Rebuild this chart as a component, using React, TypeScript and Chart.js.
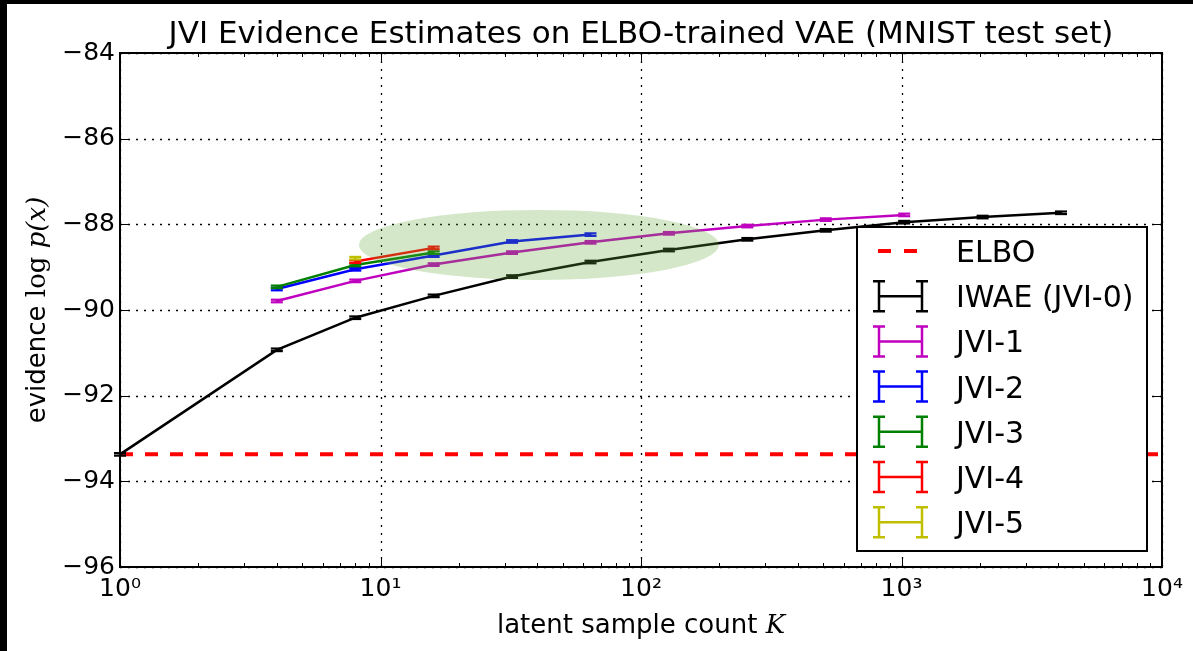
import React, { useEffect, useRef } from 'react';
import { Chart, registerables } from 'chart.js';

Chart.register(...registerables);

const TITLE = 'JVI Evidence Estimates on ELBO-trained VAE (MNIST test set)';
const X_LABEL = 'latent sample count ';
const X_LABEL_MATH = 'K';
const Y_LABEL = 'evidence ';
const Y_LABEL_LOG = 'log ';
const Y_LABEL_MATH = 'p(x)';

const X_TICKS = [1, 10, 100, 1000, 10000];
const X_TICK_LABELS = ['10⁰', '10¹', '10²', '10³', '10⁴'];
const Y_MIN = -96;
const Y_MAX = -84;
const Y_STEP = 2;

const ELBO_VALUE = -93.37;

const K_IWAE = [1, 4, 8, 16, 32, 64, 128, 256, 512, 1024, 2048, 4096];
const IWAE = [-93.37, -90.93, -90.18, -89.67, -89.22, -88.88, -88.6, -88.35, -88.14, -87.95, -87.83, -87.73];
const IWAE_ERR = [0.03, 0.03, 0.03, 0.03, 0.03, 0.03, 0.03, 0.03, 0.03, 0.03, 0.03, 0.03];

const K_JVI1 = [4, 8, 16, 32, 64, 128, 256, 512, 1024];
const JVI1 = [-89.79, -89.32, -88.94, -88.66, -88.42, -88.21, -88.04, -87.89, -87.78];
const JVI1_ERR = [0.03, 0.03, 0.03, 0.03, 0.03, 0.03, 0.03, 0.03, 0.03];

const K_JVI2 = [4, 8, 16, 32, 64];
const JVI2 = [-89.51, -89.05, -88.73, -88.4, -88.24];
const JVI2_ERR = [0.03, 0.03, 0.03, 0.03, 0.03];

const K_JVI3 = [4, 8, 16];
const JVI3 = [-89.46, -88.95, -88.66];
const JVI3_ERR = [0.03, 0.03, 0.03];

const K_JVI4 = [8, 16];
const JVI4 = [-88.87, -88.55];
const JVI4_ERR = [0.03, 0.03];

const K_JVI5 = [8];
const JVI5 = [-88.79];
const JVI5_ERR = [0.03];

const SERIES_LABELS = ['IWAE (JVI-0)', 'JVI-1', 'JVI-2', 'JVI-3', 'JVI-4', 'JVI-5'];
const SERIES_COLORS = ['#000000', '#bf00bf', '#0000ff', '#008000', '#ff0000', '#bfbf00'];
const SERIES_K = [K_IWAE, K_JVI1, K_JVI2, K_JVI3, K_JVI4, K_JVI5];
const SERIES_Y = [IWAE, JVI1, JVI2, JVI3, JVI4, JVI5];
const SERIES_ERR = [IWAE_ERR, JVI1_ERR, JVI2_ERR, JVI3_ERR, JVI4_ERR, JVI5_ERR];

// highlighted region (data coordinates: log10 K centre/radius, evidence centre/radius)
const ELLIPSE_LOGK_CENTER = 1.608;
const ELLIPSE_LOGK_RADIUS = 0.691;
const ELLIPSE_Y_CENTER = -88.48;
const ELLIPSE_Y_RADIUS = 0.817;

const SANS = '"DejaVu Sans", sans-serif';
const SERIF = '"DejaVu Serif", serif';

function drawParts(ctx: CanvasRenderingContext2D, parts: { t: string; f: string }[], cx: number, y: number) {
  let total = 0;
  for (const p of parts) {
    ctx.font = p.f;
    total += ctx.measureText(p.t).width;
  }
  let x = cx - total / 2;
  ctx.textAlign = 'left';
  ctx.textBaseline = 'alphabetic';
  for (const p of parts) {
    ctx.font = p.f;
    ctx.fillText(p.t, x, y);
    x += ctx.measureText(p.t).width;
  }
}

const mplPlugin = {
  id: 'mplLook',
  beforeDraw(chart: any) {
    const { ctx, width, height } = chart;
    ctx.save();
    ctx.fillStyle = '#ffffff';
    ctx.fillRect(0, 0, width, height);
    ctx.fillStyle = '#000000';
    ctx.fillRect(0, 0, 7, height);
    ctx.fillRect(0, 0, width, 4);
    ctx.restore();
  },
  beforeDatasetsDraw(chart: any) {
    const { ctx, chartArea: a, scales } = chart;
    const xs = scales.x;
    const ys = scales.y;
    ctx.save();
    ctx.strokeStyle = '#000000';
    ctx.lineWidth = 1.3;
    ctx.setLineDash([2, 6]);
    for (const v of X_TICKS) {
      const px = Math.round(xs.getPixelForValue(v)) + 0.5;
      ctx.beginPath();
      ctx.moveTo(px, a.top);
      ctx.lineTo(px, a.bottom);
      ctx.stroke();
    }
    for (let v = Y_MIN; v <= Y_MAX; v += Y_STEP) {
      const py = Math.round(ys.getPixelForValue(v)) + 0.5;
      ctx.beginPath();
      ctx.moveTo(a.left, py);
      ctx.lineTo(a.right, py);
      ctx.stroke();
    }
    ctx.restore();
  },
  afterDatasetsDraw(chart: any) {
    const { ctx, chartArea: a, scales } = chart;
    const xs = scales.x;
    const ys = scales.y;
    ctx.save();
    // error bar caps
    ctx.setLineDash([]);
    for (let s = 0; s < SERIES_K.length; s++) {
      ctx.strokeStyle = SERIES_COLORS[s];
      ctx.lineWidth = 2.2;
      for (let i = 0; i < SERIES_K[s].length; i++) {
        const px = xs.getPixelForValue(SERIES_K[s][i]);
        const v = SERIES_Y[s][i];
        const e = SERIES_ERR[s][i];
        for (const yy of [v - e, v + e]) {
          const py = ys.getPixelForValue(yy);
          ctx.beginPath();
          ctx.moveTo(px - 6, py);
          ctx.lineTo(px + 6, py);
          ctx.stroke();
        }
        ctx.beginPath();
        ctx.moveTo(px, ys.getPixelForValue(v - e));
        ctx.lineTo(px, ys.getPixelForValue(v + e));
        ctx.stroke();
      }
    }
    // highlighted ellipse
    const cx = xs.getPixelForValue(Math.pow(10, ELLIPSE_LOGK_CENTER));
    const rx = xs.getPixelForValue(Math.pow(10, ELLIPSE_LOGK_CENTER + ELLIPSE_LOGK_RADIUS)) - cx;
    const cy = ys.getPixelForValue(ELLIPSE_Y_CENTER);
    const ry = cy - ys.getPixelForValue(ELLIPSE_Y_CENTER + ELLIPSE_Y_RADIUS);
    ctx.fillStyle = 'rgba(100,170,60,0.28)';
    ctx.beginPath();
    ctx.ellipse(cx, cy, rx, ry, 0, 0, Math.PI * 2);
    ctx.fill();

    // ticks (inside)
    ctx.strokeStyle = '#000000';
    ctx.lineWidth = 1;
    for (let d = 0; d < 4; d++) {
      for (let m = 1; m <= 9; m++) {
        const v = Math.pow(10, d) * m;
        const px = Math.round(xs.getPixelForValue(v)) + 0.5;
        const len = m === 1 ? 8 : 4;
        ctx.beginPath();
        ctx.moveTo(px, a.bottom);
        ctx.lineTo(px, a.bottom - len);
        ctx.moveTo(px, a.top);
        ctx.lineTo(px, a.top + len);
        ctx.stroke();
      }
    }
    for (let v = Y_MIN; v <= Y_MAX; v += Y_STEP) {
      const py = Math.round(ys.getPixelForValue(v)) + 0.5;
      ctx.beginPath();
      ctx.moveTo(a.left, py);
      ctx.lineTo(a.left + 8, py);
      ctx.moveTo(a.right, py);
      ctx.lineTo(a.right - 8, py);
      ctx.stroke();
    }
    // frame
    ctx.lineWidth = 2;
    ctx.strokeRect(a.left, a.top, a.right - a.left, a.bottom - a.top);
    ctx.restore();
  },
  afterDraw(chart: any) {
    const { ctx, chartArea: a } = chart;
    const cxp = (a.left + a.right) / 2;
    const cyp = (a.top + a.bottom) / 2;
    ctx.save();
    ctx.fillStyle = '#000000';
    // title
    drawParts(ctx, [{ t: TITLE, f: `31px ${SANS}` }], cxp, 43);
    // x label
    drawParts(
      ctx,
      [
        { t: X_LABEL, f: `26px ${SANS}` },
        { t: X_LABEL_MATH, f: `italic 26px ${SERIF}` },
      ],
      cxp,
      633
    );
    // y label
    ctx.save();
    ctx.translate(45, cyp);
    ctx.rotate(-Math.PI / 2);
    drawParts(
      ctx,
      [
        { t: Y_LABEL, f: `26px ${SANS}` },
        { t: Y_LABEL_LOG, f: `26px ${SERIF}` },
        { t: Y_LABEL_MATH, f: `italic 26px ${SERIF}` },
      ],
      0,
      0
    );
    ctx.restore();

    // legend
    const lx = 857, ly = 227, lw = 290, lh = 324;
    ctx.fillStyle = '#ffffff';
    ctx.fillRect(lx, ly, lw, lh);
    ctx.strokeStyle = '#000000';
    ctx.lineWidth = 2;
    ctx.strokeRect(lx, ly, lw, lh);
    const entries = [{ label: 'ELBO', color: '#ff0000', dashed: true }].concat(
      SERIES_LABELS.map((l, i) => ({ label: l, color: SERIES_COLORS[i], dashed: false }))
    );
    entries.forEach((e, i) => {
      const base = 262 + 45.2 * i;
      const my = base - 11;
      ctx.strokeStyle = e.color;
      if (e.dashed) {
        ctx.lineWidth = 4;
        ctx.setLineDash([13, 13]);
        ctx.beginPath();
        ctx.moveTo(878, my);
        ctx.lineTo(918, my);
        ctx.stroke();
        ctx.setLineDash([]);
      } else {
        ctx.lineWidth = 2.5;
        ctx.beginPath();
        ctx.moveTo(879, my);
        ctx.lineTo(922, my);
        for (const vx of [879, 922]) {
          ctx.moveTo(vx, my - 15);
          ctx.lineTo(vx, my + 15);
          ctx.moveTo(vx - 6, my - 15);
          ctx.lineTo(vx + 6, my - 15);
          ctx.moveTo(vx - 6, my + 15);
          ctx.lineTo(vx + 6, my + 15);
        }
        ctx.stroke();
      }
      ctx.fillStyle = '#000000';
      ctx.font = `30px ${SANS}`;
      ctx.textAlign = 'left';
      ctx.textBaseline = 'alphabetic';
      ctx.fillText(e.label, 956, base);
    });
    ctx.restore();
  },
};

export default function App() {
  const ref = useRef<HTMLCanvasElement | null>(null);
  useEffect(() => {
    document.body.style.margin = '0';
    const canvas = ref.current;
    if (!canvas) return;
    const datasets: any[] = [
      {
        label: 'ELBO',
        data: [
          { x: X_TICKS[0], y: ELBO_VALUE },
          { x: X_TICKS[X_TICKS.length - 1], y: ELBO_VALUE },
        ],
        borderColor: '#ff0000',
        borderWidth: 4,
        borderDash: [13, 12],
        pointRadius: 0,
        order: 20,
      },
    ];
    SERIES_LABELS.forEach((label, s) => {
      datasets.push({
        label,
        data: SERIES_K[s].map((k, i) => ({ x: k, y: SERIES_Y[s][i] })),
        borderColor: SERIES_COLORS[s],
        borderWidth: 2.5,
        pointRadius: 0,
        order: 10 - s,
      });
    });
    const chart = new Chart(canvas, {
      type: 'line',
      data: { datasets },
      options: {
        animation: false,
        responsive: false,
        devicePixelRatio: 1,
        layout: { padding: { left: 0, top: 53, right: 31, bottom: 0 } },
        plugins: { legend: { display: false }, title: { display: false }, tooltip: { enabled: false } },
        scales: {
          x: {
            type: 'logarithmic',
            min: 1,
            max: 10000,
            grid: { display: false, drawTicks: false },
            border: { display: false },
            afterBuildTicks: (scale: any) => {
              scale.ticks = X_TICKS.map((v) => ({ value: v }));
            },
            afterFit: (scale: any) => {
              scale.height = 84;
            },
            ticks: {
              padding: 7,
              maxRotation: 0,
              autoSkip: false,
              color: '#000000',
              font: { family: 'DejaVu Sans', size: 25 },
              callback: (v: any) => {
                const i = X_TICKS.indexOf(Number(v));
                return i >= 0 ? X_TICK_LABELS[i] : '';
              },
            },
          },
          y: {
            type: 'linear',
            min: Y_MIN,
            max: Y_MAX,
            grid: { display: false, drawTicks: false },
            border: { display: false },
            afterFit: (scale: any) => {
              scale.width = 120;
            },
            ticks: {
              stepSize: Y_STEP,
              padding: 5,
              color: '#000000',
              font: { family: 'DejaVu Sans', size: 25 },
              callback: (v: any) => (Number(v) < 0 ? '\u2212' + Math.abs(Number(v)) : String(v)),
            },
          },
        },
      },
      plugins: [mplPlugin],
    });
    return () => chart.destroy();
  }, []);
  return (
    <div style={{ width: 1193, height: 651 }}>
      <canvas ref={ref} width={1193} height={651} style={{ display: 'block', width: 1193, height: 651 }} />
    </div>
  );
}
